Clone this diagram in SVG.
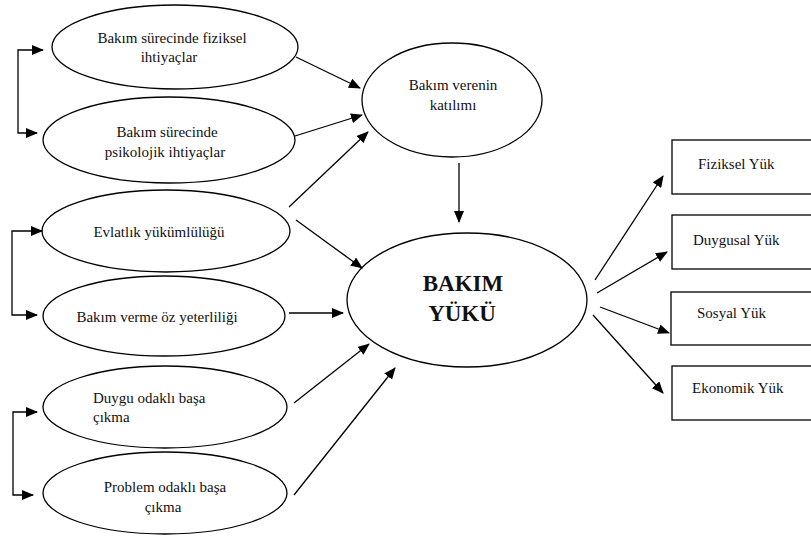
<svg xmlns="http://www.w3.org/2000/svg" width="811" height="537" viewBox="0 0 811 537">
<style>
.n ellipse, .n rect { fill: #fff; stroke: #000; stroke-width: 1.3; }
text { font-family: 'Liberation Serif', 'DejaVu Serif', serif; font-size: 15px; fill: #111; }
.c { text-anchor: middle; }
.b { font-weight: bold; font-size: 23px; }
#connectors line, #connectors path { stroke: #000; stroke-width: 1.3; fill: none; marker-end: url(#ah); }
#connectors path.br { marker-start: url(#ah); }
</style>
<defs>
<marker id="ah" markerUnits="userSpaceOnUse" markerWidth="12" markerHeight="10" refX="11" refY="5" orient="auto-start-reverse" viewBox="0 0 12 10">
<path d="M0,0 L12,5 L0,10 Z" fill="#000"/>
</marker>
</defs>
<rect width="811" height="537" fill="#fff"/>

<g id="n1" class="n">
<ellipse cx="175" cy="47" rx="123" ry="42"/>
<text class="c" x="172" y="43">Bakım sürecinde fiziksel</text>
<text class="c" x="169" y="62">ihtiyaçlar</text>
</g>
<g id="n2" class="n">
<ellipse cx="169" cy="140" rx="126" ry="43"/>
<text class="c" x="167" y="137">Bakım sürecinde</text>
<text class="c" x="165" y="157">psikolojik ihtiyaçlar</text>
</g>
<g id="n3" class="n">
<ellipse cx="166" cy="231" rx="124" ry="41"/>
<text class="c" x="159" y="237">Evlatlık yükümlülüğü</text>
</g>
<g id="n4" class="n">
<ellipse cx="164" cy="316" rx="121" ry="40"/>
<text class="c" x="157" y="322">Bakım verme öz yeterliliği</text>
</g>
<g id="n5" class="n">
<ellipse cx="165" cy="407" rx="122" ry="41"/>
<text x="93" y="403">Duygu odaklı başa</text>
<text x="93" y="422">çıkma</text>
</g>
<g id="n6" class="n">
<ellipse cx="165" cy="493" rx="122" ry="41"/>
<text class="c" x="165" y="492">Problem odaklı başa</text>
<text class="c" x="163" y="512">çıkma</text>
</g>
<g id="n7" class="n">
<ellipse cx="452" cy="100" rx="90" ry="57"/>
<text class="c" x="453" y="90">Bakım verenin</text>
<text class="c" x="453" y="110">katılımı</text>
</g>
<g id="n8" class="n">
<ellipse cx="467" cy="300" rx="120" ry="67"/>
<text class="c b" x="463" y="291">BAKIM</text>
<text class="c b" x="462" y="321">YÜKÜ</text>
</g>
<g id="n9" class="n">
<rect x="672" y="140" width="160" height="54"/>
<text x="698" y="169">Fiziksel Yük</text>
</g>
<g id="n10" class="n">
<rect x="672" y="215" width="160" height="54"/>
<text x="693" y="245">Duygusal Yük</text>
</g>
<g id="n11" class="n">
<rect x="671" y="292" width="160" height="53"/>
<text x="697" y="318">Sosyal Yük</text>
</g>
<g id="n12" class="n">
<rect x="672" y="366" width="160" height="54"/>
<text x="692" y="393">Ekonomik Yük</text>
</g>

<g id="connectors">
<path class="br" d="M43 50 H18 V133 H37"/>
<path class="br" d="M42 231 H12 V315 H37"/>
<path class="br" d="M37 412 H13 V495 H33"/>
<line x1="296" y1="57" x2="360" y2="88"/>
<line x1="295" y1="136" x2="362" y2="115"/>
<line x1="289" y1="207" x2="368" y2="132"/>
<line x1="296" y1="220" x2="362" y2="268"/>
<line x1="289" y1="313" x2="343" y2="313"/>
<line x1="294" y1="403" x2="369" y2="344"/>
<line x1="294" y1="495" x2="395" y2="368"/>
<line x1="459" y1="163" x2="459" y2="222"/>
<line x1="595" y1="280" x2="663" y2="176"/>
<line x1="597" y1="293" x2="667" y2="252"/>
<line x1="600" y1="307" x2="669" y2="333"/>
<line x1="593" y1="315" x2="663" y2="393"/>
</g>
</svg>
